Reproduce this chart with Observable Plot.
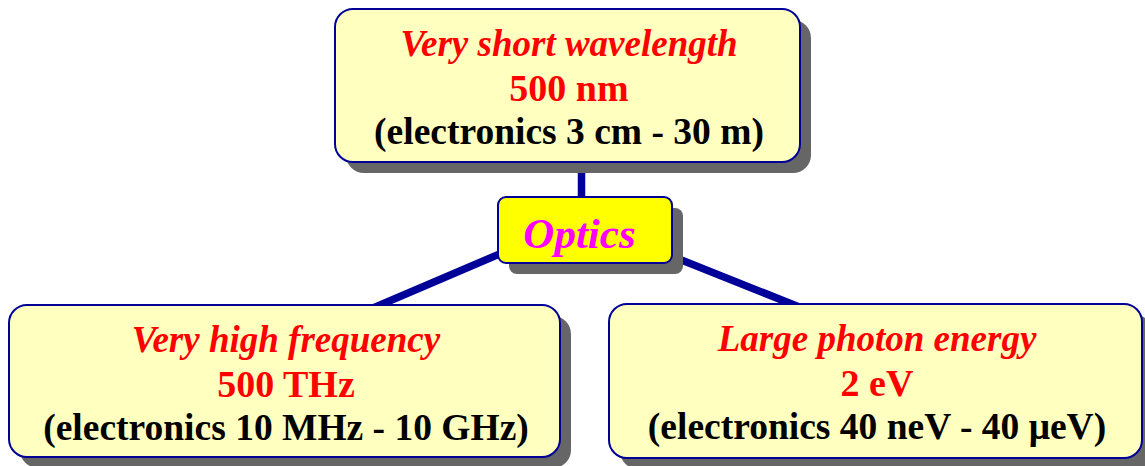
<!DOCTYPE html>
<html>
<head>
<meta charset="utf-8">
<script src="https://cdn.jsdelivr.net/npm/d3@7"></script>
<script src="https://cdn.jsdelivr.net/npm/@observablehq/plot@0.6"></script>
<style>
  html, body { margin: 0; padding: 0; background: #ffffff; }
  #chart svg { display: block; }
</style>
</head>
<body>
<div id="chart"></div>
<script>
// ---- content ----
const centerLabel = "Optics";
const headlines = ["Very short wavelength", "Very high frequency", "Large photon energy"];
const values = ["500 nm", "500 THz", "2 eV"];
const electronics = ["(electronics 3 cm - 30 m)", "(electronics 10 MHz - 10 GHz)", "(electronics 40 neV - 40 \u03BCeV)"];

// ---- layout (diagram geometry, in page pixels) ----
const boxes = [
  {x1: 335, x2: 800, y1: 9, y2: 162},
  {x1: 9, x2: 560, y1: 305, y2: 457},
  {x1: 609, x2: 1142, y1: 304, y2: 458}
];
const centerBox = {x1: 498, x2: 672, y1: 197, y2: 263};
const connectors = [
  {x1: 581, y1: 150, x2: 581, y2: 210},
  {x1: 554, y1: 230, x2: 355, y2: 315},
  {x1: 607, y1: 230, x2: 820, y2: 315}
];
const lineOffsets = [46, 91, 134];
const shadow = 11;

const serif = "'Liberation Serif', 'Times New Roman', Times, serif";
const navy = "#000099";

const nodes = headlines.map((h, i) => ({
  headline: h, value: values[i], electronics: electronics[i], ...boxes[i],
  cx: (boxes[i].x1 + boxes[i].x2) / 2
}));
const center = [{label: centerLabel, ...centerBox, cx: (centerBox.x1 + centerBox.x2) / 2 - 6}];

const textLine = (field, offset, opts) => Plot.text(nodes, {
  x: d => d.cx + 1, y: d => d.y1 + offset, text: field,
  textAnchor: "middle", lineAnchor: "bottom", fontFamily: serif, ...opts
});

const plot = Plot.plot({
  width: 1145,
  height: 466,
  margin: 0,
  x: {domain: [0, 1145], range: [0, 1145], axis: null},
  y: {domain: [0, 466], range: [0, 466], axis: null},
  marks: [
    Plot.link(connectors, {x1: "x1", y1: "y1", x2: "x2", y2: "y2", stroke: navy, strokeWidth: 7.5}),
    // shadows
    Plot.rect(nodes, {x1: "x1", x2: "x2", y1: "y1", y2: "y2", dx: shadow, dy: shadow, fill: "#666666", rx: 18}),
    Plot.rect(center, {x1: "x1", x2: "x2", y1: "y1", y2: "y2", dx: shadow, dy: shadow, fill: "#666666", rx: 8}),
    // boxes
    Plot.rect(nodes, {x1: "x1", x2: "x2", y1: "y1", y2: "y2", fill: "#ffffc0", stroke: navy, strokeWidth: 2, rx: 18}),
    Plot.rect(center, {x1: "x1", x2: "x2", y1: "y1", y2: "y2", fill: "#ffff00", stroke: navy, strokeWidth: 2, rx: 8}),
    // texts
    textLine("headline", lineOffsets[0], {fill: "#ff0000", fontSize: 37, fontStyle: "italic", fontWeight: "bold"}),
    textLine("value", lineOffsets[1], {fill: "#ff0000", fontSize: 38, fontWeight: "bold"}),
    textLine("electronics", lineOffsets[2], {fill: "#000000", fontSize: 37.5, fontWeight: "bold"}),
    Plot.text(center, {x: "cx", y: d => d.y1 + 50, text: "label", textAnchor: "middle", lineAnchor: "bottom",
      fontFamily: serif, fontSize: 43, fontStyle: "italic", fontWeight: "bold", fill: "#ff00ff"})
  ]
});
document.getElementById("chart").appendChild(plot);
</script>
</body>
</html>
